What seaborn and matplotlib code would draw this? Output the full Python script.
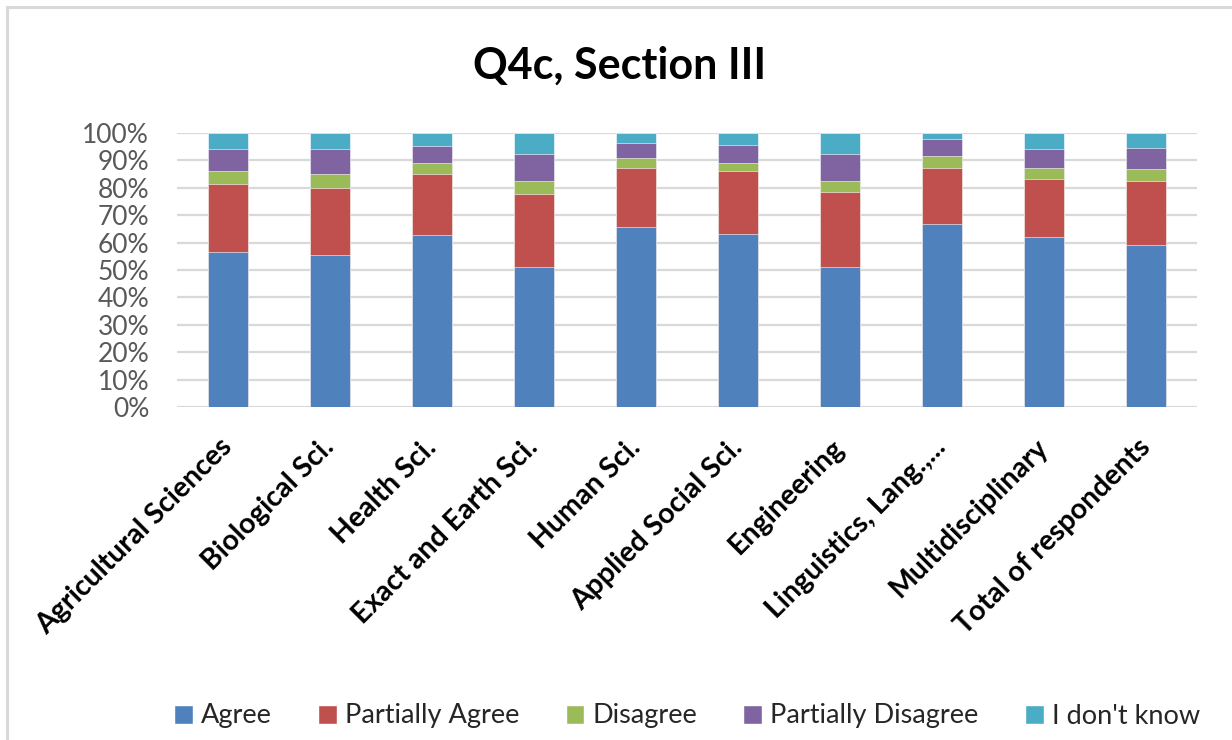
import matplotlib
matplotlib.use("Agg")
import matplotlib.pyplot as plt
import matplotlib.patches as mpatches
import numpy as np
import pandas as pd
import seaborn as sns

# Survey areas and share of answers (%) per response
categories = [
    "Agricultural Sciences", "Biological Sci.", "Health Sci.",
    "Exact and Earth Sci.", "Human Sci.", "Applied Social Sci.",
    "Engineering", "Linguistics, Lang.,...", "Multidisciplinary",
    "Total of respondents",
]
agree = [56.6, 55.5, 62.6, 51.2, 65.7, 63.2, 51.2, 66.9, 62.1, 59.1]
partially_agree = [24.7, 24.6, 22.3, 26.5, 21.7, 23.0, 27.1, 20.5, 21.1, 23.5]
disagree = [4.7, 4.9, 4.2, 4.8, 3.5, 2.9, 4.2, 4.1, 4.1, 4.2]
partially_disagree = [8.0, 9.0, 6.1, 9.7, 5.5, 6.7, 9.7, 6.2, 6.7, 7.7]
dont_know = [6.0, 6.0, 4.8, 7.8, 3.6, 4.2, 7.8, 2.3, 6.0, 5.5]

responses = ["Agree", "Partially Agree", "Disagree", "Partially Disagree", "I don't know"]
colors = ["#4F81BD", "#C0504D", "#9BBB59", "#8064A2", "#4BACC6"]
yticks = [0, 10, 20, 30, 40, 50, 60, 70, 80, 90, 100]
ytick_labels = [f"{v}%" for v in yticks]

sns.set_theme(style="white")
plt.rcParams["font.family"] = ["Lato", "DejaVu Sans"]

series = np.array([agree, partially_agree, disagree, partially_disagree, dont_know])
shares = series / series.sum(axis=0) * 100
cumulative = np.cumsum(shares, axis=0)

df = pd.DataFrame({"category": categories})
for name, cum in zip(responses, cumulative):
    df[name] = cum

fig = plt.figure(figsize=(12.32, 7.40), dpi=100)
ax = fig.add_axes([177 / 1232, 1 - 407 / 740, 1020 / 1232, 274 / 740])

# Chart-area frame (top and left edges visible)
frame = mpatches.Rectangle((7 / 1232, -0.05), 1.2, 1 - 7 / 740 + 0.05,
                           transform=fig.transFigure, fill=False,
                           edgecolor="#d9d9d9", linewidth=2.2, zorder=0)
fig.patches.append(frame)

# Stack: draw the tallest cumulative layer first, lower layers on top
for name, color in reversed(list(zip(responses, colors))):
    sns.barplot(data=df, x="category", y=name, color=color, width=0.4,
                saturation=1, ax=ax, edgecolor="white", linewidth=0.4,
                zorder=3)

ax.set_ylim(0, 100)
ax.set_xlim(-0.5, len(categories) - 0.5)
ax.set_yticks(yticks)
ax.set_yticklabels(ytick_labels, fontsize=19, color="#595959")
ax.yaxis.grid(True, color="#d9d9d9", linewidth=1.6, zorder=0)
ax.set_axisbelow(True)
for s in ax.spines.values():
    s.set_visible(False)
ax.tick_params(axis="y", length=0, pad=20)
ax.tick_params(axis="x", length=0, pad=26)
ax.set_xticks(range(len(categories)))
ax.set_xticklabels(categories, rotation=45, ha="right", va="center",
                   rotation_mode="anchor", fontsize=20.5, fontweight="bold",
                   color="black")
ax.set_xlabel("")
ax.set_ylabel("")

fig.text(0.503, 1 - 66 / 740, "Q4c, Section III", ha="center", va="center",
         fontsize=31, fontweight="bold", color="black")

handles = [mpatches.Patch(facecolor=c, edgecolor="white", label=r)
           for r, c in zip(responses, colors)]
fig.legend(handles=handles, loc="center", ncol=5,
           bbox_to_anchor=(687 / 1232, 1 - 716 / 740), frameon=False,
           fontsize=19.5, labelcolor="#262626", handlelength=0.7,
           handleheight=0.7, handletextpad=0.3, columnspacing=1.7)

fig.savefig("out.png", dpi=100, facecolor="white")
